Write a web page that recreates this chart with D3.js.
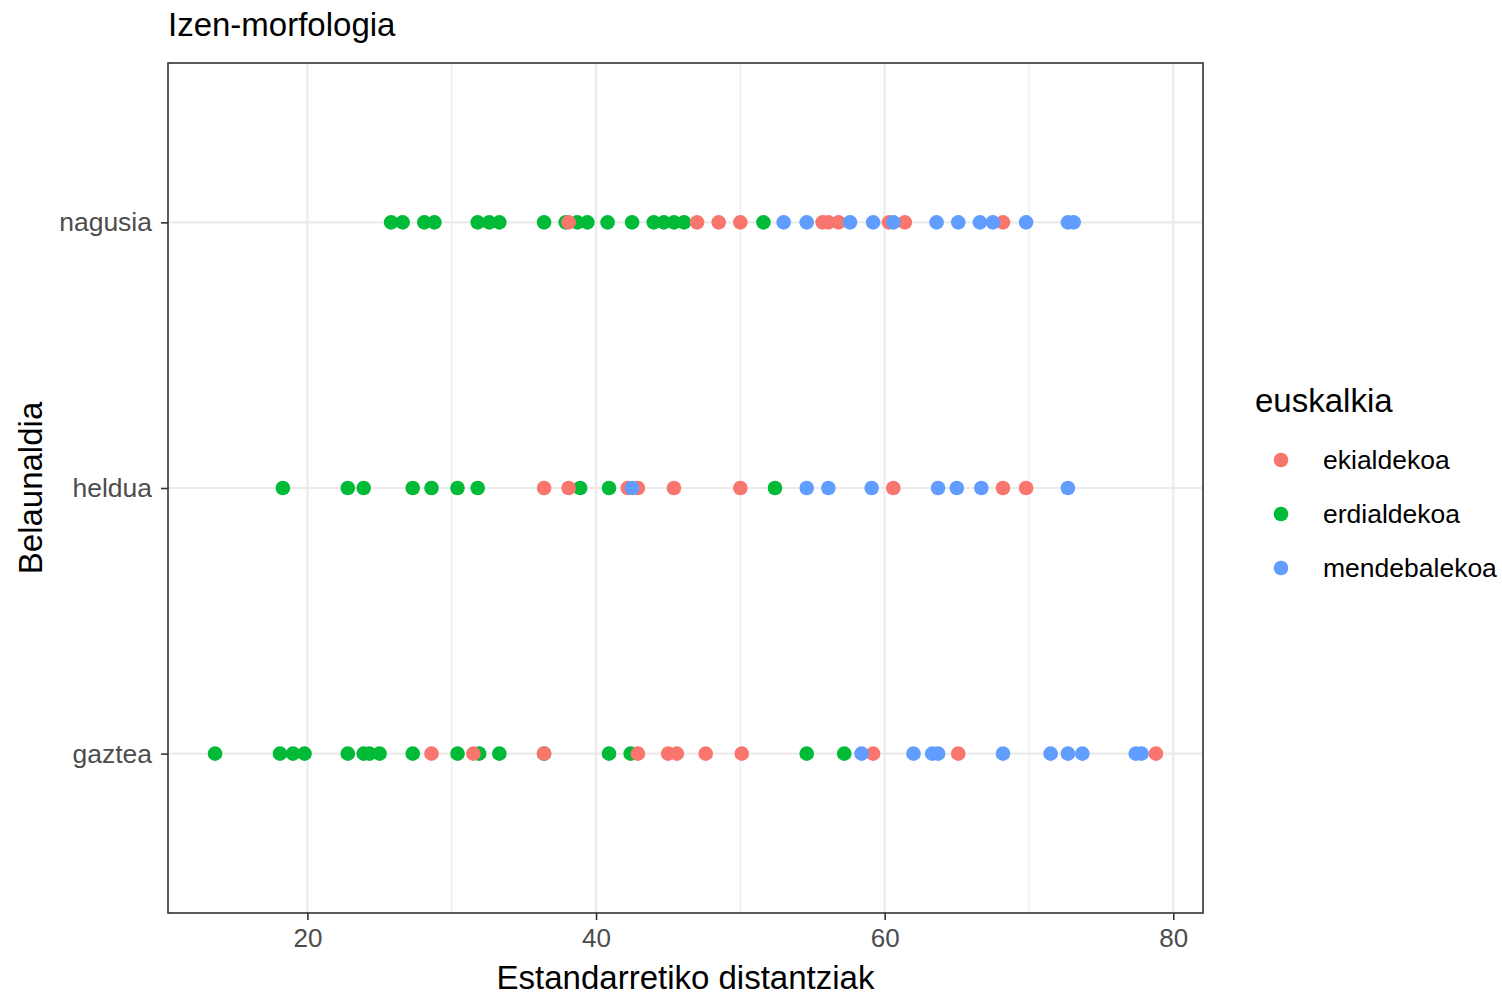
<!DOCTYPE html>
<html><head><meta charset="utf-8">
<script src="https://cdn.jsdelivr.net/npm/d3@7"></script>
<style>body{margin:0;background:#fff;} svg{display:block;font-family:"Liberation Sans",Arial,sans-serif;}</style>
</head><body>
<svg id="chart" width="1502" height="997"></svg>
<script>
const generations = ["gaztea", "heldua", "nagusia"];
const dialects = ["ekialdekoa", "erdialdekoa", "mendebalekoa"];
const colors = ["#F8766D", "#00BA38", "#619CFF"];
const xTicks = [20, 40, 60, 80];
const xMinor = [10, 30, 50, 70];

// values per generation and dialect
const nagusiaEki = [38.1, 47.0, 48.5, 50.0, 55.7, 56.1, 56.8, 60.3, 61.4, 68.2];
const nagusiaErd = [25.8, 26.6, 28.1, 28.8, 31.8, 32.6, 33.3, 36.4, 37.9, 38.7, 39.4, 40.8, 42.5, 44.0, 44.7, 45.4, 46.1, 51.6];
const nagusiaMen = [53.0, 54.6, 57.6, 59.2, 60.6, 63.6, 65.1, 66.6, 67.5, 69.8, 72.7, 73.1];
const helduaEki = [36.4, 38.1, 42.2, 42.9, 45.4, 50.0, 60.6, 68.2, 69.8];
const helduaErd = [18.3, 22.8, 23.9, 27.3, 28.6, 30.4, 31.8, 38.9, 40.9, 52.4];
const helduaMen = [42.5, 54.6, 56.1, 59.1, 63.7, 65.0, 66.7, 72.7];
const gazteaEki = [28.6, 31.5, 36.4, 42.9, 45.0, 45.6, 47.6, 50.1, 59.2, 65.1, 78.8];
const gazteaErd = [13.6, 18.1, 19.0, 19.8, 22.8, 23.9, 24.3, 25.0, 27.3, 30.4, 31.9, 33.3, 36.4, 40.9, 42.4, 54.6, 57.2];
const gazteaMen = [58.4, 62.0, 63.3, 63.7, 68.2, 71.5, 72.7, 73.7, 77.4, 77.8];

const groups = [
  {gen: "nagusia", d: 1, v: nagusiaErd}, {gen: "nagusia", d: 0, v: nagusiaEki}, {gen: "nagusia", d: 2, v: nagusiaMen},
  {gen: "heldua", d: 1, v: helduaErd}, {gen: "heldua", d: 0, v: helduaEki}, {gen: "heldua", d: 2, v: helduaMen},
  {gen: "gaztea", d: 1, v: gazteaErd}, {gen: "gaztea", d: 0, v: gazteaEki}, {gen: "gaztea", d: 2, v: gazteaMen}
];
const points = [];
groups.forEach(g => g.v.forEach(v => points.push({gen: g.gen, d: g.d, v})));

const svg = d3.select("#chart");
const L = 168, R = 1203, T = 63, B = 913;

const allV = points.map(p => p.v);
const ext = d3.extent(allV);
const pad = (ext[1] - ext[0]) * 0.05;
const x = d3.scaleLinear().domain([ext[0] - pad, ext[1] + pad]).range([L, R]);
const y = d3.scalePoint().domain(generations).range([B, T]).padding(0.6);

svg.append("rect").attr("x", L).attr("y", T).attr("width", R - L).attr("height", B - T).attr("fill", "#fff");
svg.append("g").selectAll("line").data(xMinor.filter(t => x(t) > L && x(t) < R)).join("line")
  .attr("x1", d => x(d)).attr("x2", d => x(d)).attr("y1", T).attr("y2", B)
  .attr("stroke", "#EBEBEB").attr("stroke-width", 1.1);
svg.append("g").selectAll("line").data(xTicks).join("line")
  .attr("x1", d => x(d)).attr("x2", d => x(d)).attr("y1", T).attr("y2", B)
  .attr("stroke", "#EBEBEB").attr("stroke-width", 2.2);
svg.append("g").selectAll("line").data(generations).join("line")
  .attr("x1", L).attr("x2", R).attr("y1", d => y(d)).attr("y2", d => y(d))
  .attr("stroke", "#EBEBEB").attr("stroke-width", 2.2);

svg.append("g").selectAll("circle").data(points).join("circle")
  .attr("cx", d => x(d.v)).attr("cy", d => y(d.gen)).attr("r", 7.3)
  .attr("fill", d => colors[d.d]);

svg.append("rect").attr("x", L).attr("y", T).attr("width", R - L).attr("height", B - T)
  .attr("fill", "none").attr("stroke", "#333333").attr("stroke-width", 1.6);

const xAxis = svg.append("g").attr("transform", `translate(0,${B})`)
  .call(d3.axisBottom(x).tickValues(xTicks).tickSize(7).tickPadding(9).tickFormat(d3.format("d")));
xAxis.select(".domain").remove();
xAxis.selectAll("line").attr("stroke", "#333333").attr("stroke-width", 1.6);
xAxis.selectAll("text").attr("fill", "#4D4D4D").style("font-size", "26px");

const yAxis = svg.append("g").attr("transform", `translate(${L},0)`)
  .call(d3.axisLeft(y).tickSize(7).tickPadding(9));
yAxis.select(".domain").remove();
yAxis.selectAll("line").attr("stroke", "#333333").attr("stroke-width", 1.6);
yAxis.selectAll("text").attr("fill", "#4D4D4D").style("font-size", "26.5px");

svg.append("text").attr("x", L).attr("y", 36).text("Izen-morfologia")
  .style("font-size", "33px").attr("fill", "#000");
svg.append("text").attr("x", (L + R) / 2).attr("y", 989).attr("text-anchor", "middle")
  .text("Estandarretiko distantziak").style("font-size", "33px").attr("fill", "#000");
svg.append("text").attr("transform", `translate(42,${(T + B) / 2}) rotate(-90)`).attr("text-anchor", "middle")
  .text("Belaunaldia").style("font-size", "33px").attr("fill", "#000");

const lg = svg.append("g");
lg.append("text").attr("x", 1255).attr("y", 412).text("euskalkia").style("font-size", "33px").attr("fill", "#000");
dialects.forEach((name, i) => {
  const cy = 460 + i * 54;
  lg.append("circle").attr("cx", 1281).attr("cy", cy).attr("r", 7.3).attr("fill", colors[i]);
  lg.append("text").attr("x", 1323).attr("y", cy + 9).text(name).style("font-size", "26.5px").attr("fill", "#000");
});
</script>
</body></html>
